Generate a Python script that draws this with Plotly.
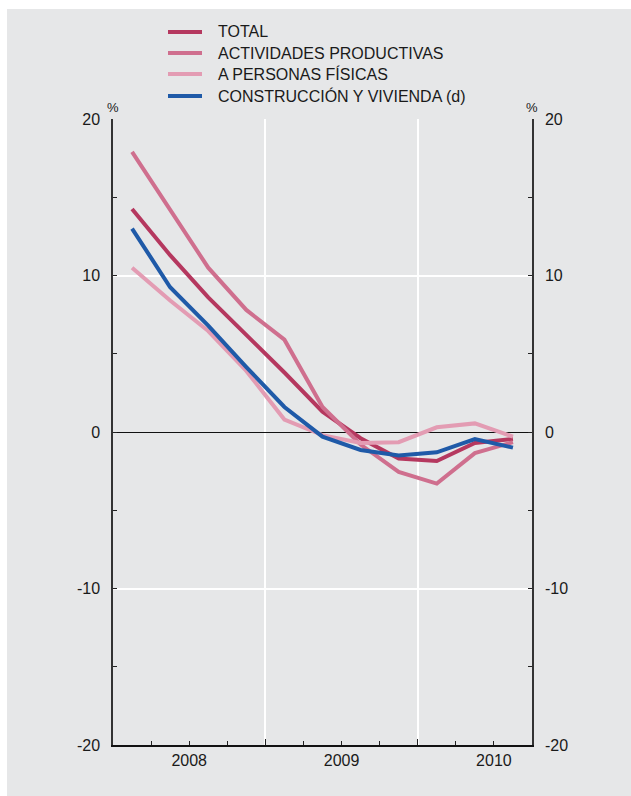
import plotly.graph_objects as go

# ---- data ----
periods = ["2008-I", "2008-II", "2008-III", "2008-IV",
           "2009-I", "2009-II", "2009-III", "2009-IV",
           "2010-I", "2010-II", "2010-III"]
total = [14.25, 11.3, 8.6, 6.2, 3.8, 1.3, -0.4, -1.7, -1.85, -0.7, -0.45]
actividades = [17.9, 14.2, 10.5, 7.8, 5.9, 1.6, -0.8, -2.55, -3.3, -1.35, -0.65]
personas = [10.5, 8.4, 6.45, 3.9, 0.8, -0.2, -0.7, -0.65, 0.3, 0.55, -0.3]
construccion = [13.0, 9.25, 6.8, 4.15, 1.6, -0.3, -1.15, -1.5, -1.3, -0.45, -1.0]

series_names = ["TOTAL", "ACTIVIDADES PRODUCTIVAS", "A PERSONAS FÍSICAS",
                "CONSTRUCCIÓN Y VIVIENDA (d)"]
series_values = [total, actividades, personas, construccion]
colors = ["#b5385f", "#cf6f8e", "#e39cb3", "#1f5aa8"]

year_labels = ["2008", "2009", "2010"]
year_centers = [1.5, 5.5, 9.5]
year_bounds = [3.5, 7.5]
quarter_bounds = [0.5, 1.5, 2.5, 4.5, 5.5, 6.5, 8.5, 9.5]

y_major = [-20, -10, 0, 10, 20]
y_minor = [-15, -5, 5, 15]

x = list(range(len(periods)))

BG = "#e6e7e8"
FONT = "Liberation Sans, Arial, Helvetica, sans-serif"
W, H = 631, 796
L, R, T, B = 113, 99, 119, 51
pw, ph = W - L - R, H - T - B


def px2x(p):
    return (p - L) / pw


def px2y(p):
    return (H - B - p) / ph


fig = go.Figure()
for name, vals, col in zip(series_names, series_values, colors):
    fig.add_trace(go.Scatter(x=x, y=vals, name=name, mode="lines",
                             line=dict(color=col, width=4),
                             customdata=periods, showlegend=False))
# invisible trace to activate secondary axes
fig.add_trace(go.Scatter(x=[0], y=[0], xaxis="x2", yaxis="y2", mode="markers",
                         marker=dict(opacity=0), showlegend=False, hoverinfo="skip"))

tickfont = dict(family=FONT, size=16, color="#1a1a1a")

fig.update_layout(
    width=W, height=H,
    margin=dict(l=L, r=R, t=T, b=B),
    paper_bgcolor="white", plot_bgcolor=BG,
    font=dict(family=FONT, color="#1a1a1a"),
    xaxis=dict(range=[-0.5, 10.5], tickmode="array",
               tickvals=year_centers, ticktext=year_labels,
               ticks="inside", ticklen=4, tickcolor="#222", tickwidth=1,
               showgrid=False, zeroline=False, showline=True,
               linecolor="#111", linewidth=2, tickfont=tickfont,
               minor=dict(tickmode="array", tickvals=quarter_bounds,
                          ticks="inside", ticklen=4, tickcolor="#222",
                          showgrid=False)),
    xaxis2=dict(range=[-0.5, 10.5], overlaying="x", side="bottom",
                tickmode="array", tickvals=year_bounds, ticktext=["", ""],
                ticks="inside", ticklen=6, tickcolor="#222",
                showgrid=True, gridcolor="white", gridwidth=1.5,
                zeroline=False, showline=False),
    yaxis=dict(range=[-20, 20], tickmode="array", tickvals=y_major,
               ticktext=[str(v) for v in y_major],
               ticks="inside", ticklen=4, tickcolor="#222",
               showgrid=True, gridcolor="white", gridwidth=1.5,
               zeroline=True, zerolinecolor="#111", zerolinewidth=1.2,
               showline=True, linecolor="#333", linewidth=1.5,
               tickfont=tickfont, ticklabelstandoff=8,
               minor=dict(tickmode="array", tickvals=y_minor, ticks="inside",
                          ticklen=4, tickcolor="#222", showgrid=False)),
    yaxis2=dict(range=[-20, 20], overlaying="y", side="right",
                tickmode="array", tickvals=y_major,
                ticktext=[str(v) for v in y_major],
                ticks="inside", ticklen=4, tickcolor="#222",
                showgrid=False, zeroline=False,
                showline=True, linecolor="#333", linewidth=1.5,
                tickfont=tickfont, ticklabelstandoff=8,
                minor=dict(tickmode="array", tickvals=y_minor, ticks="inside",
                           ticklen=4, tickcolor="#222", showgrid=False)),
    showlegend=False,
)

shapes = [dict(type="rect", xref="paper", yref="paper", layer="below",
               x0=px2x(7), x1=px2x(W + 5), y0=px2y(H + 5), y1=px2y(9),
               fillcolor=BG, line=dict(width=0))]
annotations = []
legend_rows = [32, 53, 74, 96]
for name, col, py in zip(series_names, colors, legend_rows):
    shapes.append(dict(type="line", xref="paper", yref="paper",
                       x0=px2x(168), x1=px2x(202), y0=px2y(py), y1=px2y(py),
                       line=dict(color=col, width=4)))
    annotations.append(dict(xref="paper", yref="paper", x=px2x(216), y=px2y(py),
                            text=name, showarrow=False, xanchor="left",
                            yanchor="middle",
                            font=dict(family=FONT, size=16, color="#1a1a1a")))
for px in [113, 532]:
    annotations.append(dict(xref="paper", yref="paper", x=px2x(px), y=px2y(108),
                            text="%", showarrow=False, xanchor="center",
                            yanchor="middle",
                            font=dict(family=FONT, size=13, color="#1a1a1a")))
fig.update_layout(shapes=shapes, annotations=annotations)

fig.write_html("out.html",
               config={"displayModeBar": False},
               post_script="document.body.style.margin='0px';"
                           "document.body.style.padding='0px';")
